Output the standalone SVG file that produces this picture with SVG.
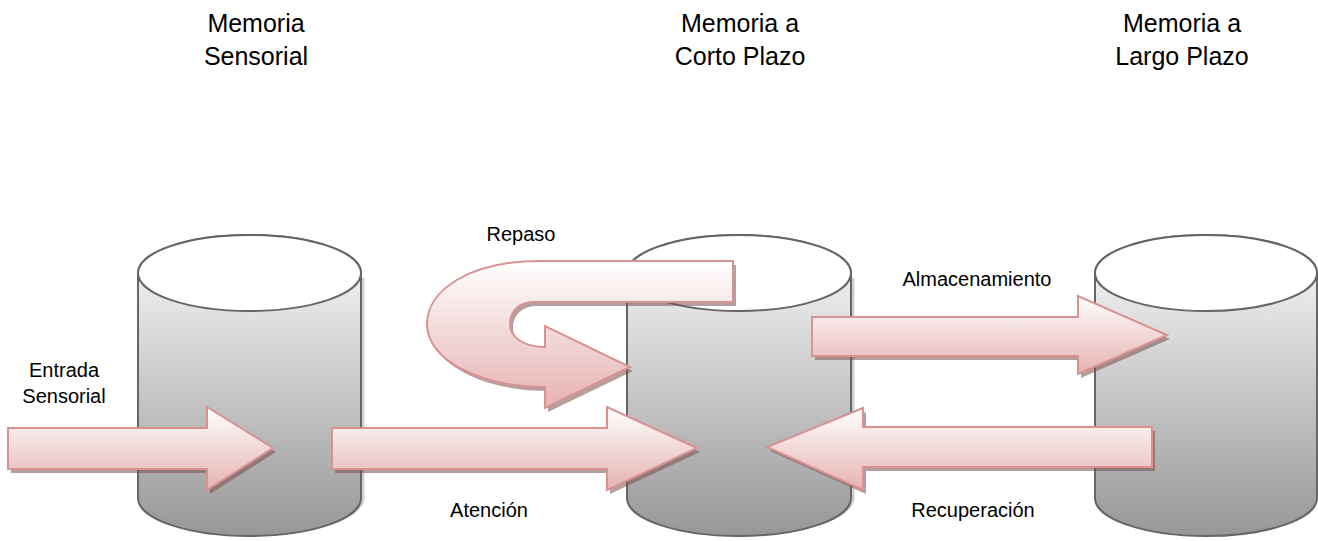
<svg xmlns="http://www.w3.org/2000/svg" width="1318" height="541" viewBox="0 0 1318 541">
<defs>
<linearGradient id="cylGrad" x1="0" y1="0" x2="0" y2="1">
<stop offset="0" stop-color="#fbfbfb"/>
<stop offset="1" stop-color="#979797"/>
</linearGradient>
<linearGradient id="arrGrad" x1="0" y1="0" x2="0" y2="1">
<stop offset="0" stop-color="#ffffff"/>
<stop offset="1" stop-color="#e6b1b1"/>
</linearGradient>
</defs>
<style>
.cyl{fill:url(#cylGrad);stroke:#666;stroke-width:2}
.cyltop{fill:#fff;stroke:#666;stroke-width:2}
.cylsh{fill:none;stroke:#cfcfcf;stroke-width:3}
.arr{fill:url(#arrGrad);stroke:#d89292;stroke-width:2;stroke-linejoin:miter}
.arrsh{fill:#7a4f4f;opacity:0.55}
.title{font-family:"Liberation Sans",Arial,sans-serif;font-size:25px;fill:#000;text-anchor:middle}
.lbl{font-family:"Liberation Sans",Arial,sans-serif;font-size:20px;fill:#000;text-anchor:middle}
</style>

<g id="title-sensorial">
<text class="title" x="256" y="32">Memoria</text>
<text class="title" x="256" y="65">Sensorial</text>
</g>
<g id="title-corto">
<text class="title" x="740" y="32">Memoria a</text>
<text class="title" x="740" y="65">Corto Plazo</text>
</g>
<g id="title-largo">
<text class="title" x="1182" y="32">Memoria a</text>
<text class="title" x="1182" y="65">Largo Plazo</text>
</g>

<g id="cyl-sensorial">
<path class="cylsh" d="M363 278 L363 500 A111.5 38 0 0 1 141 500"/>
<path class="cyl" d="M138 273 A111.5 38 0 0 1 361 273 L361 498 A111.5 38 0 0 1 138 498 Z"/>
<ellipse class="cyltop" cx="249.5" cy="273" rx="111.5" ry="38"/>
</g>
<g id="cyl-corto">
<path class="cylsh" d="M853 278 L853 500 A112 38 0 0 1 630 500"/>
<path class="cyl" d="M627 273 A112 38 0 0 1 851 273 L851 498 A112 38 0 0 1 627 498 Z"/>
<ellipse class="cyltop" cx="739" cy="273" rx="112" ry="38"/>
</g>
<g id="cyl-largo">
<path class="cyl" d="M1095 273 A111 38 0 0 1 1317 273 L1317 498 A111 38 0 0 1 1095 498 Z"/>
<ellipse class="cyltop" cx="1206" cy="273" rx="111" ry="38"/>
</g>

<g id="connectors">
<g id="arrow-entrada">
<path class="arrsh" d="M11 432 L210 432 L210 411 L276 452 L210 494 L210 473 L11 473 Z"/>
<path class="arr" d="M8 428 L207 428 L207 407 L273 448 L207 490 L207 469 L8 469 Z"/>
</g>
<g id="arrow-atencion">
<path class="arrsh" d="M335 432 L610 432 L610 411 L700 452 L610 494 L610 473 L335 473 Z"/>
<path class="arr" d="M332 428 L607 428 L607 407 L697 448 L607 490 L607 469 L332 469 Z"/>
</g>
<g id="arrow-repaso">
<path class="arrsh" d="M736 265 L543 265 C473 265 430 294 430 328 C430 364 483 391 548 391 L548 412 L633 371 L548 330 L548 351 C528 351 513 342 513 328 C513 314 523 306 538 306 L736 306 Z"/>
<path class="arr" d="M733 261 L540 261 C470 261 427 290 427 324 C427 360 480 387 545 387 L545 408 L630 367 L545 326 L545 347 C525 347 510 338 510 324 C510 310 520 302 535 302 L733 302 Z"/>
</g>
<g id="arrow-almacenamiento">
<path class="arrsh" d="M815 321 L1081 321 L1081 300 L1170 339 L1081 378 L1081 360 L815 360 Z"/>
<path class="arr" d="M812 317 L1078 317 L1078 296 L1167 335 L1078 374 L1078 356 L812 356 Z"/>
</g>
<g id="arrow-recuperacion">
<path class="arrsh" d="M1155 431 L866 431 L866 412 L770 451 L866 494 L866 471 L1155 471 Z"/>
<path class="arr" d="M1152 427 L863 427 L863 408 L767 447 L863 490 L863 467 L1152 467 Z"/>
</g>
</g>

<g id="labels">
<text class="lbl" x="64" y="377">Entrada</text>
<text class="lbl" x="64" y="403">Sensorial</text>
<text class="lbl" x="521" y="241">Repaso</text>
<text class="lbl" x="489" y="517">Atención</text>
<text class="lbl" x="977" y="286">Almacenamiento</text>
<text class="lbl" x="973" y="517">Recuperación</text>
</g>
</svg>
